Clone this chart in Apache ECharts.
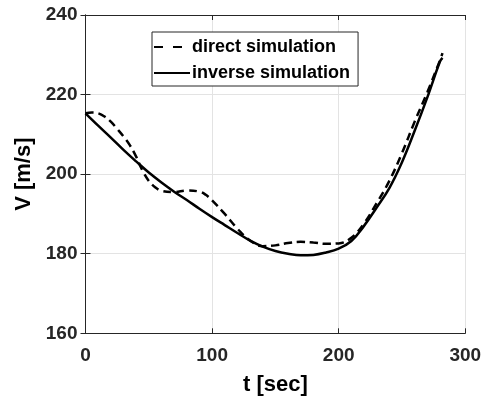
<!DOCTYPE html>
<html>
<head>
<meta charset="utf-8">
<script src="https://cdn.jsdelivr.net/npm/echarts@6/dist/echarts.min.js"></script>
<style>
  html, body { margin: 0; padding: 0; background: #fff; }
  #chart { width: 490px; height: 397px; }
</style>
</head>
<body>
<div id="chart"></div>
<script>
// Velocity histories, t in seconds, V in m/s
const directT = [0, 5, 10, 15, 20, 25, 30, 35, 40, 45, 50, 55, 60, 70, 80, 90, 95, 100, 110, 120, 130, 140, 150, 160, 170, 180, 190, 200, 210, 220, 230, 240, 250, 260, 270, 280, 282];
const directV = [215.3, 215.5, 215.3, 214.5, 213.2, 211.4, 209.5, 207.3, 204.4, 200.9, 198.3, 196.7, 195.8, 195.5, 195.9, 195.6, 194.8, 193.4, 190.0, 186.3, 183.3, 181.9, 182.1, 182.7, 183.0, 182.8, 182.5, 182.6, 184.0, 187.6, 192.7, 198.3, 205.3, 213.2, 220.6, 228.6, 230.4];

const inverseT = [0, 10, 20, 30, 40, 50, 60, 70, 80, 90, 100, 110, 120, 130, 140, 150, 160, 170, 180, 190, 200, 210, 220, 230, 240, 250, 260, 270, 280, 282];
const inverseV = [215.3, 212.2, 209.2, 206.1, 203.2, 200.4, 197.9, 195.6, 193.5, 191.3, 189.2, 187.2, 185.2, 183.3, 181.8, 180.7, 180.0, 179.6, 179.7, 180.3, 181.3, 183.2, 187.0, 191.6, 196.5, 203.0, 210.9, 219.3, 228.3, 229.2];

const seriesNames = ['direct simulation', 'inverse simulation'];
const xTitle = 't [sec]';
const yTitle = 'V [m/s]';

const ink = '#262626';
const font = 'Liberation Sans, Arial, sans-serif';

const pairs = (ts, vs) => ts.map((t, i) => [t, vs[i]]);

const chart = echarts.init(document.getElementById('chart'), null, { renderer: 'canvas' });

// top and right axes only close the box and carry inward ticks
const hiddenAxisCommon = {
  axisLabel: { show: false },
  splitLine: { show: false },
  axisLine: { show: true, lineStyle: { color: ink, width: 1 } },
  axisTick: { show: true, inside: true, length: 5, lineStyle: { color: ink } }
};

chart.setOption({
  animation: false,
  backgroundColor: '#fff',
  grid: { left: 85.5, right: 24.7, top: 15, bottom: 63.7, containLabel: false, outerBoundsMode: 'none' },
  legend: {
    left: 152, top: 32,
    orient: 'vertical',
    data: [
      { name: seriesNames[0], lineStyle: { type: [9, 10] } },
      { name: seriesNames[1] }
    ],
    itemWidth: 36, itemHeight: 14, itemGap: 8,
    padding: [6, 8, 4, 1],
    backgroundColor: '#fff',
    borderColor: ink, borderWidth: 1,
    itemStyle: { opacity: 0 },
    textStyle: { color: '#000', fontFamily: font, fontWeight: 'bold', fontSize: 18, lineHeight: 17, padding: [0, 0, 0, -3] }
  },
  xAxis: [{
    type: 'value', min: 0, max: 300, interval: 100,
    name: xTitle, nameLocation: 'middle', nameGap: 41,
    nameTextStyle: { color: '#000', fontFamily: font, fontWeight: 'bold', fontSize: 22 },
    axisLabel: { color: ink, fontFamily: font, fontWeight: 'bold', fontSize: 19, margin: 13 },
    axisLine: { show: true, onZero: false, lineStyle: { color: ink, width: 1 } },
    axisTick: { show: true, inside: true, length: 5, lineStyle: { color: ink } },
    splitLine: { show: true, lineStyle: { color: '#e3e3e3', width: 1 } }
  }, Object.assign({ type: 'value', position: 'top', min: 0, max: 300, interval: 100 }, hiddenAxisCommon)],
  yAxis: [{
    type: 'value', min: 160, max: 240, interval: 20,
    name: yTitle, nameLocation: 'middle', nameGap: 43, nameRotate: 90,
    nameTextStyle: { color: '#000', fontFamily: font, fontWeight: 'bold', fontSize: 22 },
    axisLabel: { color: ink, fontFamily: font, fontWeight: 'bold', fontSize: 19, margin: 8 },
    axisLine: { show: true, onZero: false, lineStyle: { color: ink, width: 1 } },
    axisTick: { show: true, inside: true, length: 5, lineStyle: { color: ink } },
    splitLine: { show: true, lineStyle: { color: '#e3e3e3', width: 1 } }
  }, Object.assign({ type: 'value', position: 'right', min: 160, max: 240, interval: 20 }, hiddenAxisCommon)],
  series: [{
    name: seriesNames[0], type: 'line', smooth: 0.4,
    symbol: 'none', showSymbol: false,
    data: pairs(directT, directV),
    lineStyle: { color: '#000', width: 2.5, type: [8, 5] },
    itemStyle: { color: '#000' },
    z: 3
  }, {
    name: seriesNames[1], type: 'line', smooth: 0.4,
    symbol: 'none', showSymbol: false,
    data: pairs(inverseT, inverseV),
    lineStyle: { color: '#000', width: 2.5 },
    itemStyle: { color: '#000' },
    z: 2
  }]
});
</script>
</body>
</html>
